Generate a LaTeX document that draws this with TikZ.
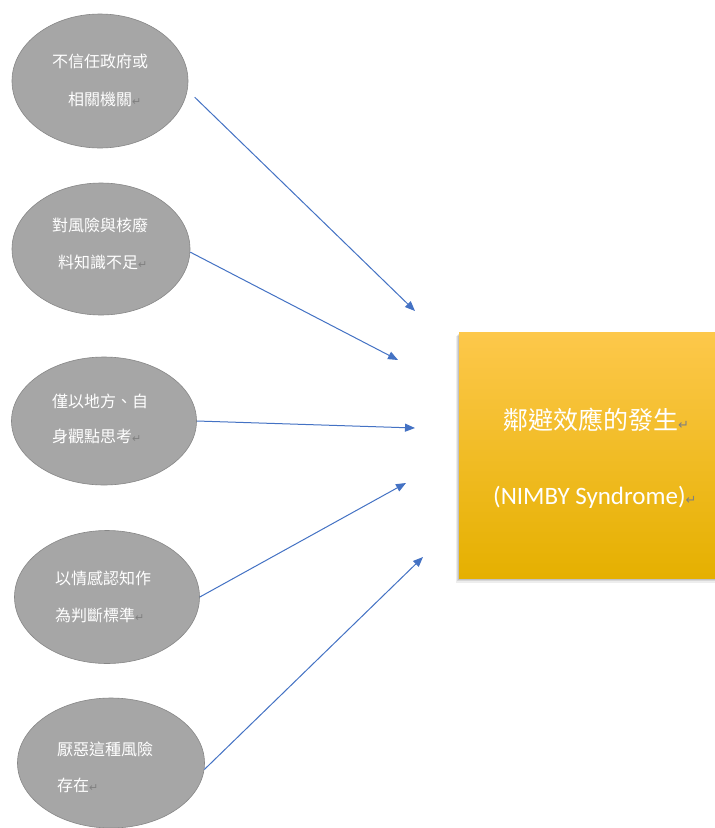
\documentclass[tikz,border=0pt]{standalone}
\usepackage{fontspec}
\setmainfont{Carlito}
\newfontfamily\cjk{Noto Sans CJK TC}
\newfontfamily\symf{DejaVu Sans}
\usetikzlibrary{arrows.meta,shapes.geometric}
\definecolor{ellfill}{RGB}{166,166,166}
\definecolor{elldraw}{RGB}{135,135,135}
\definecolor{arrblue}{RGB}{68,114,196}
\definecolor{boxtop}{RGB}{253,200,75}
\definecolor{boxmid}{RGB}{255,192,0}
\definecolor{boxbot}{RGB}{229,176,0}
\definecolor{markgray}{RGB}{128,128,128}
\newcommand{\pmark}{{\symf\fontsize{11}{11}\selectfont\textcolor{markgray}{↵}}}
\newcommand{\pmarkbig}{{\symf\fontsize{13}{13}\selectfont\textcolor{markgray}{↵}}}
\begin{document}
\begin{tikzpicture}[x=1pt,y=-1pt,
  bubble/.style={ellipse, fill=ellfill, draw=elldraw, line width=0.6pt, inner sep=0pt},
  ltext/.style={anchor=west, text=white, font=\cjk\fontsize{16}{16}\selectfont, inner sep=0pt},
  btext/.style={anchor=west, text=white, inner sep=0pt},
  conn/.style={draw=arrblue, line width=1pt, -{Triangle[length=10pt,width=8pt]}},
]
\useasboundingbox (0,0) rectangle (715,828);
\fill[white] (0,0) rectangle (715,828);

% ellipses
\node[bubble, minimum width=176pt, minimum height=134pt] (e1) at (100,81) {};
\node[bubble, minimum width=178pt, minimum height=132pt] (e2) at (101,249) {};
\node[bubble, minimum width=185pt, minimum height=128pt] (e3) at (104,421) {};
\node[bubble, minimum width=185pt, minimum height=133pt] (e4) at (107,597) {};
\node[bubble, minimum width=187pt, minimum height=130pt] (e5) at (111,763) {};

% ellipse texts
\node[ltext] (l1a) at (52,61) {不信任政府或};
\node[ltext] (l1b) at (68,99) {相關機關\pmark};
\node[ltext] (l2a) at (52,225) {對風險與核廢};
\node[ltext] (l2b) at (58,262) {料知識不足\pmark};
\node[ltext] (l3a) at (52,401) {僅以地方、自};
\node[ltext] (l3b) at (52,436) {身觀點思考\pmark};
\node[ltext] (l4a) at (55,578) {以情感認知作};
\node[ltext] (l4b) at (55,615) {為判斷標準\pmark};
\node[ltext] (l5a) at (57,749) {厭惡這種風險};
\node[ltext] (l5b) at (57,785) {存在\pmark};

% box with shadow
\fill[black,opacity=0.07] (456,336) rectangle (715,583);
\fill[black,opacity=0.09] (457,335) rectangle (715,581);
\fill[black,opacity=0.10] (458,334) rectangle (715,580);
\node[rectangle, minimum width=256pt, minimum height=246pt, inner sep=0pt,
      top color=boxtop, middle color=boxmid, bottom color=boxbot] (box) at (587,455) {};
\node[btext, font=\cjk\fontsize{25}{25}\selectfont] (title) at (503,420) {鄰避效應的發生\pmarkbig};
\node[btext, font=\fontsize{25}{25}\selectfont] (sub) at (493,497) {(NIMBY Syndrome)\pmarkbig};

% arrow targets
\coordinate (t1) at (415,311);
\coordinate (t2) at (398,360);
\coordinate (t3) at (415,428);
\coordinate (t4) at (406,483);
\coordinate (t5) at (423,557);

\draw[conn, shorten <=10pt] (e1.-6.5) -- (t1);
\draw[conn] (e2.-2) -- (t2);
\draw[conn] (e3.east) -- (t3);
\draw[conn] (e4.east) -- (t4);
\draw[conn] (e5.-4) -- (t5);
\end{tikzpicture}
\end{document}
